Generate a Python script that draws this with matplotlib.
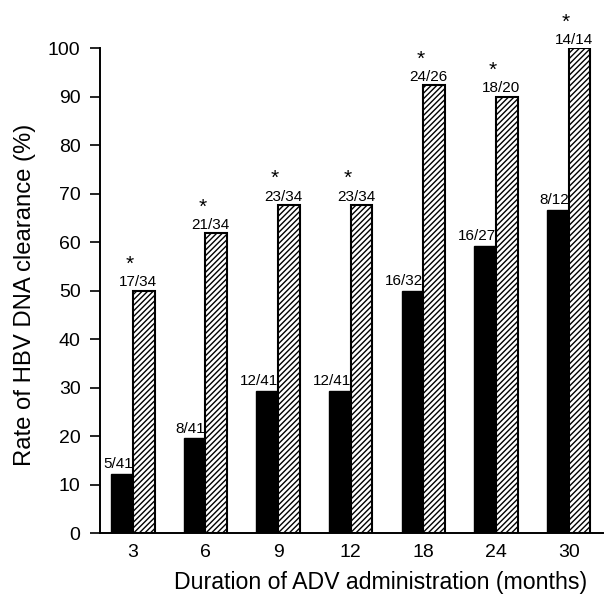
import matplotlib
matplotlib.use("Agg")
import matplotlib.pyplot as plt
import numpy as np

plt.rcParams['font.family'] = ['Liberation Sans', 'DejaVu Sans']
plt.rcParams['hatch.linewidth'] = 1.0

months = ["3", "6", "9", "12", "18", "24", "30"]
ctrl_num = [5, 8, 12, 12, 16, 16, 8]
ctrl_den = [41, 41, 41, 41, 32, 27, 12]
adv_num = [17, 21, 23, 23, 24, 18, 14]
adv_den = [34, 34, 34, 34, 26, 20, 14]
significant = [True, True, True, True, True, True, True]

ctrl_vals = [100 * n / d for n, d in zip(ctrl_num, ctrl_den)]
adv_vals = [100 * n / d for n, d in zip(adv_num, adv_den)]

fig = plt.figure(figsize=(6.08, 6.01), dpi=100)
ax = fig.add_axes([0.1645, 0.1131, 0.827, 0.807])

x = np.arange(len(months))
w = 0.3
ax.bar(x - w / 2, ctrl_vals, width=w, color='black', edgecolor='black', linewidth=1)
ax.bar(x + w / 2, adv_vals, width=w, color='white', edgecolor='black',
       linewidth=1.5, hatch='//////')

for i in range(len(months)):
    ax.annotate(f"{ctrl_num[i]}/{ctrl_den[i]}", (x[i], ctrl_vals[i]),
                xytext=(0, 2), textcoords='offset points', ha='right', va='bottom',
                fontsize=11, annotation_clip=False)
    ax.annotate(f"{adv_num[i]}/{adv_den[i]}", (x[i] + w / 2, adv_vals[i]),
                xytext=(-4, 1), textcoords='offset points', ha='center', va='bottom',
                fontsize=11, annotation_clip=False)
    if significant[i]:
        ax.annotate("*", (x[i] + w / 2, adv_vals[i]),
                    xytext=(-10, 12), textcoords='offset points', ha='center', va='bottom',
                    fontsize=15, annotation_clip=False)

ax.set_xlim(-0.45, len(months) - 1 + 0.47)
ax.set_ylim(0, 100)
ax.set_yticks(np.arange(0, 101, 10))
ax.set_xticks(x)
ax.set_xticklabels(months)
ax.tick_params(axis='x', length=0, pad=8, labelsize=14)
ax.tick_params(axis='y', length=7, width=1.2, pad=7, labelsize=14)
ax.spines['top'].set_visible(False)
ax.spines['right'].set_visible(False)
ax.spines['left'].set_linewidth(1.4)
ax.spines['bottom'].set_linewidth(1.4)
ax.set_ylabel("Rate of HBV DNA clearance (%)", fontsize=17.2)
ax.set_xlabel("Duration of ADV administration (months)", fontsize=16.7)
ax.yaxis.set_label_coords(-0.127, 0.49)
ax.xaxis.set_label_coords(0.557, -0.078)

fig.savefig("out.png", dpi=100)
